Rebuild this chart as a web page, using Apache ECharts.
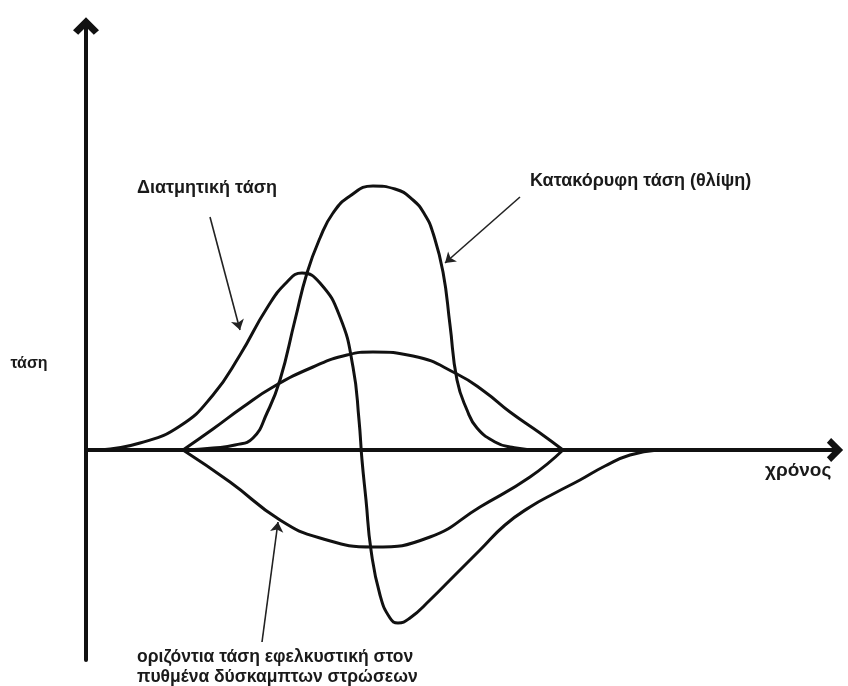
<!DOCTYPE html>
<html>
<head>
<meta charset="utf-8">
<script src="https://cdn.jsdelivr.net/npm/echarts@6/dist/echarts.min.js"></script>
<style>
html,body{margin:0;padding:0;background:#fff;}
#chart{width:848px;height:686px;}
</style>
</head>
<body>
<div id="chart"></div>
<script>
// Curves: [time, stress] pairs (time and stress in arbitrary units)
var verticalStress = [[0.99,0],[1.27,0.02],[1.49,0.05],[1.67,0.12],[1.81,0.37],[1.94,0.70],[2.09,1.30],[2.21,1.77],[2.34,2.12],[2.47,2.37],[2.64,2.54],[2.87,2.64],[3.09,2.61],[3.27,2.50],[3.39,2.35],[3.47,2.17],[3.57,1.78],[3.64,1.25],[3.71,0.70],[3.81,0.40],[3.91,0.22],[4.09,0.08],[4.24,0.03],[4.54,0],[4.77,0]];
var shearStress = [[0.14,0],[0.54,0.07],[0.94,0.24],[1.27,0.55],[1.54,0.95],[1.81,1.42],[2.01,1.68],[2.16,1.77],[2.34,1.67],[2.54,1.33],[2.67,0.83],[2.73,0.30],[2.76,-0.10],[2.80,-0.50],[2.85,-1.00],[2.94,-1.45],[3.04,-1.68],[3.12,-1.73],[3.24,-1.68],[3.44,-1.50],[3.69,-1.25],[3.94,-1.00],[4.19,-0.75],[4.44,-0.57],[4.69,-0.43],[4.94,-0.30],[5.19,-0.16],[5.44,-0.05],[5.72,0]];
var broadStress = [[0.97,0],[1.27,0.21],[1.57,0.43],[1.87,0.63],[2.27,0.83],[2.61,0.95],[2.87,0.98],[3.27,0.94],[3.71,0.76],[3.99,0.58],[4.24,0.38],[4.54,0.17],[4.77,0]];
var horizontalTension = [[0.97,0],[1.44,-0.32],[1.94,-0.70],[2.34,-0.88],[2.87,-0.97],[3.44,-0.87],[3.94,-0.57],[4.44,-0.27],[4.77,0]];
// Annotation pointers: [from, to] in data units
var pointerShear = [[1.24,2.33],[1.54,1.20]];
var pointerVertical = [[4.34,2.53],[3.59,1.87]];
var pointerHorizontal = [[1.76,-1.92],[1.92,-0.72]];
// Text labels
var labelShear = 'Διατμητική τάση';
var labelVertical = 'Κατακόρυφη τάση (θλίψη)';
var labelHorizontal1 = 'οριζόντια τάση εφελκυστική στον';
var labelHorizontal2 = 'πυθμένα δύσκαμπτων στρώσεων';
var yName = 'τάση';
var xName = 'χρόνος';

var chevron = 'path://M10,0 L20,10 L16,13.5 L10,7.5 L4,13.5 L0,10 Z';
var ink = '#111';
var fam = '"Liberation Sans", Arial, sans-serif';
function f(sz){ return 'bold ' + sz + 'px ' + fam; }

var chart = echarts.init(document.getElementById('chart'), null, {renderer:'canvas'});
function curve(data){
  return {type:'line', data:data, smooth:0.5, symbol:'none',
    lineStyle:{color:ink, width:3}, silent:true, z:3};
}
function pointer(p){ return {coords:p}; }
chart.setOption({
  animation:false,
  backgroundColor:'#fff',
  grid:{left:86, right:13, top:26, bottom:26, containLabel:false},
  xAxis:{type:'value', min:0, max:7.49,
    axisLine:{show:true, onZero:true, symbol:['none', chevron], symbolSize:[24,22], lineStyle:{color:ink, width:4}},
    axisTick:{show:false}, axisLabel:{show:false}, splitLine:{show:false}},
  yAxis:{type:'value', min:-2.10, max:4.24,
    axisLine:{show:true, onZero:true, symbol:['none', chevron], symbolSize:[26,24], lineStyle:{color:ink, width:4}},
    axisTick:{show:false}, axisLabel:{show:false}, splitLine:{show:false}},
  series:[
    curve(verticalStress), curve(shearStress), curve(broadStress), curve(horizontalTension),
    {type:'lines', coordinateSystem:'cartesian2d', silent:true, z:4,
      symbol:['none','arrow'], symbolSize:10,
      lineStyle:{color:'#222', width:1.6, opacity:1},
      data:[pointer(pointerShear), pointer(pointerVertical), pointer(pointerHorizontal)]}
  ],
  graphic:[
    {type:'text', x:137, y:188, style:{text:labelShear, font:f(18), fill:'#1a1a1a', textVerticalAlign:'middle'}},
    {type:'text', x:530, y:181, style:{text:labelVertical, font:f(18), fill:'#1a1a1a', textVerticalAlign:'middle'}},
    {type:'text', x:137, y:657, style:{text:labelHorizontal1, font:f(17.5), fill:'#1a1a1a', textVerticalAlign:'middle'}},
    {type:'text', x:137, y:677, style:{text:labelHorizontal2, font:f(17.5), fill:'#1a1a1a', textVerticalAlign:'middle'}},
    {type:'text', x:29, y:364, style:{text:yName, font:f(16), fill:'#1a1a1a', textAlign:'center', textVerticalAlign:'middle'}},
    {type:'text', x:765, y:471, style:{text:xName, font:f(19), fill:'#1a1a1a', textVerticalAlign:'middle'}}
  ]
});
</script>
</body>
</html>
